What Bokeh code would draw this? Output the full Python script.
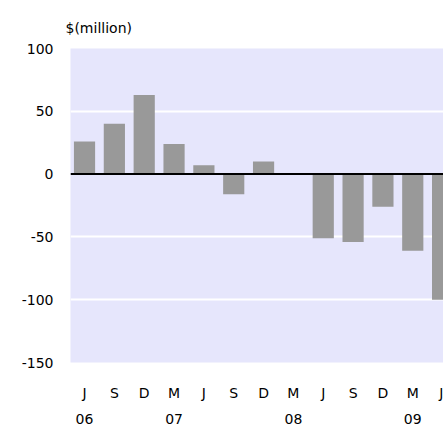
from bokeh.plotting import figure
from bokeh.models import FixedTicker, LinearAxis, Span, Range1d, ColumnDataSource
from bokeh.embed import file_html
from bokeh.resources import INLINE

# data
quarters = ["J", "S", "D", "M", "J", "S", "D", "M", "J", "S", "D", "M", "J"]
values = [26, 40, 63, 24, 7, -16, 10, 0, -51, -54, -26, -61, -100]
year_labels = ["06", "07", "08", "09"]
year_index = [0, 3, 7, 11]
y_ticks = [100, 50, 0, -50, -100, -150]
y_tick_labels = ["100", "50", "0", "-50", "-100", "-150"]

FONT = "DejaVu Sans"
FS = "14px"

xs = list(range(len(values)))
src = ColumnDataSource(dict(x=xs, top=values))

p = figure(width=443, height=426, output_backend="svg", toolbar_location=None,
           x_range=Range1d(-0.47, 12.03), y_range=Range1d(-150, 100),
           min_border_left=70, min_border_right=0, min_border_top=48, min_border_bottom=63)
p.background_fill_color = "#e6e6fc"
p.border_fill_color = "white"
p.outline_line_color = None

p.vbar(x="x", top="top", bottom=0, width=0.71, source=src,
       fill_color="#999999", line_color=None)

p.add_layout(Span(location=0, dimension="width", line_color="black", line_width=2))

# grid
p.xgrid.grid_line_color = None
p.ygrid.ticker = FixedTicker(ticks=[50, -50, -100])
p.ygrid.grid_line_color = "white"
p.ygrid.grid_line_width = 2

# y axis
ya = p.yaxis[0]
ya.ticker = FixedTicker(ticks=y_ticks)
ya.major_label_overrides = {t: s for t, s in zip(y_ticks, y_tick_labels)}
ya.axis_line_color = None
ya.major_tick_line_color = None
ya.minor_tick_line_color = None
ya.major_tick_out = 0
ya.major_tick_in = 0
ya.major_label_standoff = 17
ya.major_label_text_font = FONT
ya.major_label_text_font_size = FS
ya.major_label_text_color = "black"

# x axis (quarters)
xa = p.xaxis[0]
xa.ticker = FixedTicker(ticks=xs)
xa.major_label_overrides = {i: q for i, q in zip(xs, quarters)}
xa.axis_line_color = None
xa.major_tick_line_color = None
xa.minor_tick_line_color = None
xa.major_tick_out = 0
xa.major_tick_in = 0
xa.major_label_standoff = 22
xa.major_label_text_font = FONT
xa.major_label_text_font_size = FS
xa.major_label_text_color = "black"

# second x axis (years)
xa2 = LinearAxis(ticker=FixedTicker(ticks=year_index),
                 major_label_overrides={i: y for i, y in zip(year_index, year_labels)})
xa2.axis_line_color = None
xa2.major_tick_line_color = None
xa2.minor_tick_line_color = None
xa2.major_tick_out = 0
xa2.major_tick_in = 0
xa2.major_label_standoff = 10
xa2.major_label_text_font = FONT
xa2.major_label_text_font_size = FS
xa2.major_label_text_color = "black"
p.add_layout(xa2, "below")

# title
p.title.text = "$(million)"
p.title.text_font = FONT
p.title.text_font_size = FS
p.title.text_font_style = "normal"
p.title.text_color = "black"
p.title.align = "left"
p.title.offset = -5
p.title.standoff = 25

open("out.html", "w").write(file_html(p, INLINE))
